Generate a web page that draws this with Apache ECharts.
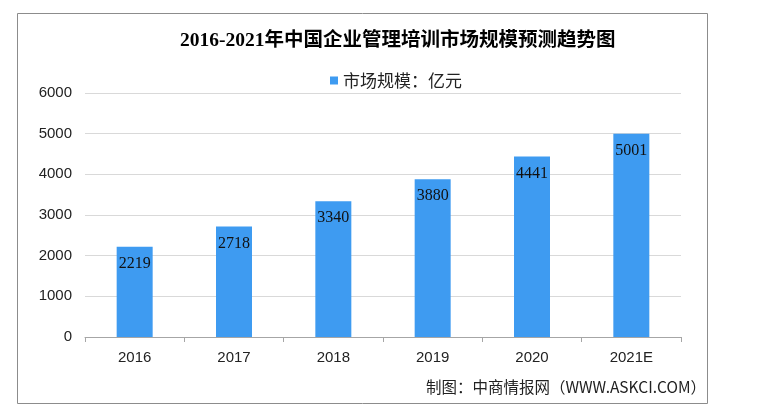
<!DOCTYPE html>
<html><head><meta charset="utf-8">
<script src="https://cdn.jsdelivr.net/npm/echarts@6/dist/echarts.min.js"></script>
<style>html,body{margin:0;padding:0;background:#fff}#c{width:761px;height:411px}</style>
</head><body><div id="c"></div>
<script>
var categories = ['2016','2017','2018','2019','2020','2021E'];
var marketSize = [2219, 2718, 3340, 3880, 4441, 5001];
var yTicks = [0, 1000, 2000, 3000, 4000, 5000, 6000];
var titleText = '2016-2021年中国企业管理培训市场规模预测趋势图';
var seriesName = '市场规模：亿元';
var sourceText = '制图：中商情报网（WWW.ASKCI.COM）';

var chart = echarts.init(document.getElementById('c'));
chart.setOption({
  animation: false,
  backgroundColor: '#fff',
  title: {
    text: titleText, left: 175, top: 26,
    textStyle: {fontSize: 19.5, fontWeight: 'bold', color: '#000', fontFamily: "'Liberation Serif','Noto Sans CJK SC',serif"}
  },
  legend: {
    data: [seriesName], left: 325, top: 67, itemWidth: 8, itemHeight: 8, itemGap: 6,
    icon: 'rect',
    textStyle: {fontSize: 17, color: '#222', fontFamily: "'Noto Sans CJK SC',sans-serif"}
  },
  grid: {left: 85, right: 80, top: 93, bottom: 74},
  xAxis: {
    type: 'category', data: categories, boundaryGap: true,
    axisLine: {lineStyle: {color: '#a6a6a6'}},
    axisTick: {show: true, length: 5, lineStyle: {color: '#a6a6a6'}},
    axisLabel: {fontSize: 15, color: '#222', margin: 13, fontFamily: "'Liberation Sans',sans-serif"}
  },
  yAxis: {
    type: 'value', min: yTicks[0], max: yTicks[yTicks.length - 1], interval: 1000,
    axisLine: {show: false}, axisTick: {show: false},
    splitLine: {lineStyle: {color: '#d9d9d9'}},
    axisLabel: {fontSize: 15, color: '#222', margin: 13, fontFamily: "'Liberation Sans',sans-serif",
      formatter: function (v) { return String(v); }}
  },
  series: [{
    name: seriesName, type: 'bar', data: marketSize, barWidth: 36,
    itemStyle: {color: '#3e9bf1'},
    label: {show: true, position: 'insideTop', distance: 9, color: '#111', fontSize: 16,
      fontFamily: "'Liberation Serif',serif"}
  }],
  graphic: [
    {type: 'rect', shape: {x: 17.5, y: 13.5, width: 690, height: 390}, style: {fill: 'none', stroke: '#8c8c8c', lineWidth: 1}, z: -1},
    {type: 'text', right: 55, top: 379, style: {text: sourceText, fontSize: 15.5, fill: '#222', fontFamily: "'Noto Sans CJK SC',sans-serif"}}
  ]
});
</script></body></html>
